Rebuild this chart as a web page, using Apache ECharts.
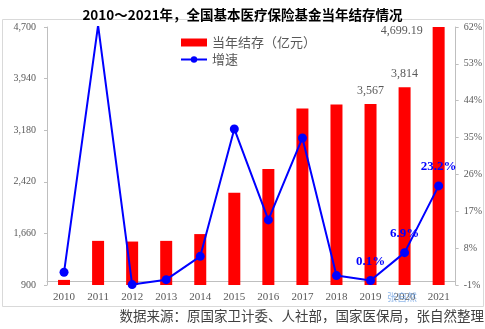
<!DOCTYPE html>
<html>
<head>
<meta charset="utf-8">
<script src="https://cdn.jsdelivr.net/npm/echarts@6/dist/echarts.min.js"></script>
<style>
html, body { margin: 0; padding: 0; background: #fff; }
#chart { width: 485px; height: 329px; }
</style>
</head>
<body>
<div id="chart"></div>
<script>
// 全国基本医疗保险基金当年结存（亿元）及增速（%）
const years = ['2010', '2011', '2012', '2013', '2014', '2015', '2016', '2017', '2018', '2019', '2020', '2021'];
const surplus = [975, 1550, 1540, 1550, 1650, 2260, 2610, 3500, 3557, 3567, 3814, 4699.19];
const growth = [2.1, 62.4, -0.9, 0.3, 6.0, 37.1, 14.9, 34.9, 1.3, 0.1, 6.9, 23.2];
const leftTicks = [900, 1660, 2420, 3180, 3940, 4700];
const rightTicks = [-1, 8, 17, 26, 35, 44, 53, 62];
const labeledSurplusYears = ['2019', '2020', '2021'];
const labeledGrowthYears = ['2019', '2020', '2021'];

const numFont = 'Liberation Serif';
const cjkFont = 'Noto Sans CJK SC';

function withComma(v) {
  const parts = String(v).split('.');
  parts[0] = parts[0].replace(/\B(?=(\d{3})+(?!\d))/g, ',');
  return parts.join('.');
}

const barData = surplus.map((v, i) => {
  const y = years[i];
  if (!labeledSurplusYears.includes(y)) return v;
  const last = i === years.length - 1;
  return {
    value: v,
    label: last
      ? { show: true, position: 'top', distance: 5, offset: [-37, 15] }
      : { show: true, position: 'top', distance: 7 }
  };
});

const lineData = growth.map((v, i) => {
  if (!labeledGrowthYears.includes(years[i])) return v;
  return { value: v, label: { show: true } };
});

const chart = echarts.init(document.getElementById('chart'), null, { renderer: 'canvas' });

chart.setOption({
  animation: false,
  backgroundColor: '#ffffff',
  title: {
    text: '2010～2021年，全国基本医疗保险基金当年结存情况',
    left: 'center',
    top: 3,
    textStyle: { fontFamily: cjkFont, fontSize: 13.5, fontWeight: 'bold', color: '#000000' }
  },
  legend: {
    orient: 'vertical',
    left: 175,
    top: 31,
    itemWidth: 26,
    itemHeight: 8,
    itemGap: 4,
    textStyle: { fontFamily: cjkFont, fontSize: 13, color: '#595959' },
    data: [
      { name: '当年结存（亿元）', icon: 'rect' },
      { name: '增速' }
    ]
  },
  grid: { left: 47, right: 28, top: 27, bottom: 44 },
  xAxis: {
    type: 'category',
    data: years,
    axisLine: { lineStyle: { color: '#bfbfbf', width: 1 } },
    axisTick: { show: false },
    axisLabel: { fontFamily: numFont, fontSize: 11, color: '#595959', margin: 7 }
  },
  yAxis: [
    {
      type: 'value',
      min: 900,
      max: 4700,
      splitLine: { show: false },
      axisLine: { show: true, lineStyle: { color: '#bfbfbf' } },
      axisTick: { show: true, length: 3, customValues: leftTicks, lineStyle: { color: '#bfbfbf' } },
      axisLabel: {
        customValues: leftTicks,
        fontFamily: numFont, fontSize: 10, color: '#595959', margin: 11,
        formatter: v => withComma(v)
      }
    },
    {
      type: 'value',
      position: 'right',
      min: -1,
      max: 62,
      splitLine: { show: false },
      axisLine: { show: true, lineStyle: { color: '#bfbfbf' } },
      axisTick: { show: true, length: 3, customValues: rightTicks, lineStyle: { color: '#bfbfbf' } },
      axisLabel: {
        customValues: rightTicks,
        fontFamily: numFont, fontSize: 10, color: '#595959', margin: 8,
        formatter: v => v + '%'
      }
    }
  ],
  series: [
    {
      name: '当年结存（亿元）',
      type: 'bar',
      yAxisIndex: 0,
      barWidth: 12,
      itemStyle: { color: '#ff0000' },
      label: {
        show: false,
        fontFamily: numFont, fontSize: 12, color: '#595959',
        formatter: p => withComma(p.value)
      },
      data: barData
    },
    {
      name: '增速',
      type: 'line',
      yAxisIndex: 1,
      symbol: 'circle',
      symbolSize: 9,
      lineStyle: { color: '#0000ff', width: 2 },
      itemStyle: { color: '#0000ff' },
      label: {
        show: false,
        position: 'top',
        distance: 8,
        fontFamily: numFont, fontSize: 13, fontWeight: 'bold', color: '#0000ff',
        formatter: p => p.value.toFixed(1) + '%'
      },
      data: lineData,
      z: 3
    }
  ],
  graphic: [
    {
      type: 'rect',
      shape: { x: 2.5, y: 19.5, width: 481, height: 287 },
      style: { fill: 'none', stroke: '#d9d9d9', lineWidth: 1 },
      silent: true,
      z: -1
    },
    {
      type: 'text',
      left: 387,
      top: 292,
      style: { text: '张自然', fontFamily: cjkFont, fontSize: 10, fill: 'rgba(110,160,225,0.75)' },
      silent: true,
      z: 10
    },
    {
      type: 'text',
      right: 1,
      top: 309,
      style: { text: '数据来源：原国家卫计委、人社部，国家医保局，张自然整理', fontFamily: cjkFont, fontSize: 13.5, fill: '#404040' },
      silent: true
    }
  ]
});
</script>
</body>
</html>
